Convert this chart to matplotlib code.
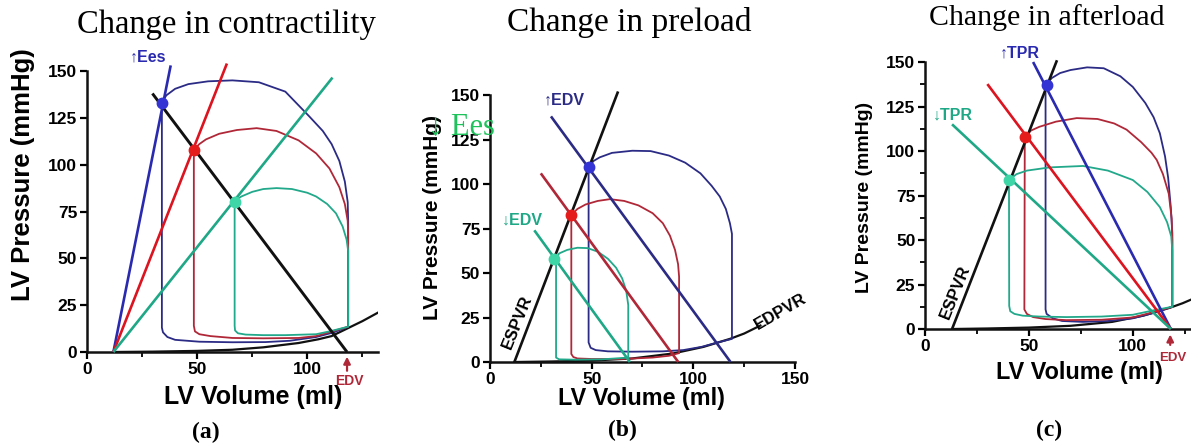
"""
Pressure-volume loops: change in contractility, preload and afterload.
"""

import matplotlib
matplotlib.use("Agg")
import matplotlib.pyplot as plt
from matplotlib.ticker import MultipleLocator, NullLocator

# ── Colours ───────────────────────────────────────────────────────────────────

BLUE_LOOP, BLUE_LINE, BLUE_DOT = "#2b2b86", "#2a2ab0", "#3434d4"
RED_LOOP, RED_LINE, RED_DOT = "#b02838", "#dc1420", "#e41c1c"
GREEN_LOOP, GREEN_LINE, GREEN_DOT = "#22a88a", "#1fa886", "#3ed6a6"
BLACK = "#111111"

# ── Panel (a): change in contractility ────────────────────────────────────────

A_EDPVR_V = [12, 30, 50, 66, 80, 96, 105, 111, 118, 125, 132]
A_EDPVR_P = [0, 0.2, 0.6, 1.2, 2.5, 4.8, 6.8, 8.5, 12.5, 16.5, 21]

A_ESPVR_BLUE = ([12, 38], [0, 153])
A_ESPVR_RED = ([12, 63.5], [0, 154])
A_ESPVR_GREEN = ([12, 111.4], [0, 146.5])
A_EA = ([29.7, 118], [138, 0])

A_BLUE_V = [34, 36, 40, 46, 55, 66, 78, 90, 101, 107, 111, 114.5, 117, 118.3, 118.5,
            118.5, 112, 104, 92, 81, 66, 51, 40, 36.5, 34.5, 34, 34]
A_BLUE_P = [133, 137, 140.5, 143, 144.5, 145, 144, 139, 125.6, 118, 111, 102, 91, 80, 70,
            13.5, 10.5, 8, 6, 5.3, 5.2, 5.5, 6.5, 8, 10.5, 13, 133]
A_RED_V = [48.5, 51, 54, 60, 68, 77, 86, 96, 104, 110, 114.5, 117, 118.3, 118.5,
           118.5, 104, 96, 80, 66, 56, 51, 49, 48.5, 48.5]
A_RED_P = [108, 111, 113.5, 116.5, 118.5, 119.5, 118, 113, 106, 98, 88, 79, 70, 64,
           13.5, 8.5, 7.5, 7.3, 7.5, 8.5, 9.5, 11, 14, 108]
A_GREEN_V = [67, 70, 75, 80, 86, 93, 100, 104, 109, 113, 116, 117.8, 118.5,
             118.5, 110, 104, 90, 80, 72, 68.5, 67.2, 67, 67]
A_GREEN_P = [80.5, 83, 85.5, 87, 87.5, 87, 85, 83, 79, 74, 67, 60, 54,
             13.5, 11, 9.5, 9, 9, 9.3, 10, 11.5, 14, 80.5]

A_DOTS_V = [34, 48.5, 67]
A_DOTS_P = [133, 108, 80]

# ── Panel (b): change in preload ──────────────────────────────────────────────

B_EDPVR_V = [12, 30, 50, 70, 90, 105, 118, 125, 133]
B_EDPVR_P = [0, 0.3, 0.8, 2, 4.8, 8.5, 13, 16, 20.5]

B_ESPVR = ([12, 63], [0, 152])
B_EA_BLUE = ([30, 118.3], [138, 0])
B_EA_RED = ([25, 92.6], [106, 0])
B_EA_GREEN = ([21.8, 68.8], [74, 0])

B_BLUE_V = [48.5, 51, 54, 60, 70, 79, 88, 96, 103.5, 109, 113, 116, 118, 119,
            119, 112, 104, 95, 85, 70, 58, 52, 49.5, 48.5, 48.5]
B_BLUE_P = [109.5, 113, 115, 117.5, 118.7, 118.5, 116, 112, 106, 99, 93, 86, 78, 72,
            13, 11, 8.5, 6.7, 6, 5.8, 6, 6.7, 8, 11, 109.5]
B_RED_V = [40, 43, 47, 53, 59, 66, 73, 80, 85, 88.5, 91, 92.5, 93,
           93, 88, 80, 65, 50, 43, 41, 40, 40]
B_RED_P = [82.6, 86, 88.5, 90.5, 91.5, 90.5, 88, 83.6, 78, 71, 63, 55, 48,
           5, 3.5, 2.5, 1.7, 1.7, 2, 2.8, 4.5, 82.6]
B_GREEN_V = [32.5, 34, 38, 43, 48, 53, 58, 62, 65, 67, 68, 68,
             68, 55, 42, 34, 32.5, 32.5]
B_GREEN_P = [58, 61, 63, 64.2, 64, 62, 58, 53, 47, 40, 32, 25,
             2.5, 1.5, 1.3, 1.5, 2.5, 58]

B_DOTS_V = [48.5, 40, 31.5]
B_DOTS_P = [109.5, 82.6, 58]

# ── Panel (c): change in afterload ────────────────────────────────────────────

C_EDPVR_V = [13, 30, 50, 70, 90, 105, 118, 124, 128]
C_EDPVR_P = [0, 0.3, 0.8, 1.8, 4, 7.5, 12, 14.5, 16.5]

C_ESPVR = ([13, 63.5], [0, 151])
C_EA_BLUE = ([52, 118.3], [150, 0])
C_EA_RED = ([30, 118.3], [137.6, 0])
C_EA_GREEN = ([13, 118.3], [115, 0])

C_BLUE_V = [58, 61, 65, 70, 78, 86, 94, 100, 106, 110, 113, 115.5, 117, 118.3, 119,
            119, 110, 100, 88, 76, 66, 61.5, 58.5, 58, 58]
C_BLUE_P = [137, 141, 143.8, 145.5, 147, 146.5, 142, 136, 127, 119, 110, 97, 85, 68, 54,
            12.5, 9, 6, 4.5, 4, 4.5, 6, 8.5, 11, 137]
C_RED_V = [48, 51, 55, 63, 73, 83, 91, 97, 104, 109, 111.5, 114.5, 117.3, 118.7, 119,
           119, 110, 100, 85, 68, 58, 52, 49, 47.8, 48]
C_RED_P = [108, 111.5, 113.6, 116.5, 118.5, 118, 115.5, 112, 105, 99, 95, 87, 76, 62, 50,
           12.5, 9.5, 6.5, 5.2, 5, 5.6, 6.7, 8.5, 11, 108]
C_GREEN_V = [40.4, 44, 49, 60, 76, 88, 100, 107, 113, 116.5, 118.5, 119,
             119, 110, 100, 85, 68, 55, 47, 43, 41, 40.5, 40.4]
C_GREEN_P = [83.7, 87, 89, 90.8, 91.6, 89, 83.7, 77, 68.5, 60, 52, 44,
             12.5, 10.5, 8, 7, 6.7, 7, 7.5, 8.5, 10, 13, 83.7]

C_DOTS_V = [58.6, 48, 40.4]
C_DOTS_P = [137, 108, 83.7]

DOT_COLORS = [BLUE_DOT, RED_DOT, GREEN_DOT]

SANS = ["Liberation Sans", "DejaVu Sans"]
SERIF = ["Liberation Serif", "DejaVu Serif"]


# ── Helpers ───────────────────────────────────────────────────────────────────

def style_axes(ax, xmax, ylabel_size, xlabel_size, xlab_pos, ylab_pos,
               y_minor=False):
    ax.set_xlim(0, xmax)
    ax.set_ylim(0, 150)
    for side in ("top", "right"):
        ax.spines[side].set_visible(False)
    for side in ("left", "bottom"):
        ax.spines[side].set_linewidth(1.8)
        ax.spines[side].set_color(BLACK)
    ax.xaxis.set_major_locator(MultipleLocator(50))
    ax.xaxis.set_minor_locator(MultipleLocator(25))
    ax.yaxis.set_major_locator(MultipleLocator(25))
    if y_minor:
        ax.yaxis.set_minor_locator(MultipleLocator(12.5))
    else:
        ax.yaxis.set_minor_locator(NullLocator())
    ax.tick_params(which="major", direction="out", length=5, width=1.6,
                   labelsize=12.5, pad=2)
    ax.tick_params(which="minor", direction="out", length=3.5, width=1.3)
    for lab in ax.get_xticklabels() + ax.get_yticklabels():
        lab.set_fontweight("bold")
        lab.set_family(SANS)
    ax.set_xlabel("LV Volume (ml)", fontsize=xlabel_size, fontweight="bold",
                  family=SANS, va="center")
    ax.set_ylabel("LV Pressure (mmHg)", fontsize=ylabel_size, fontweight="bold",
                  family=SANS, va="center")
    ax.xaxis.set_label_coords(*xlab_pos)
    ax.yaxis.set_label_coords(*ylab_pos)
    ax.patch.set_alpha(0)


def line(ax, xy, color, lw=1.9):
    ax.plot(xy[0], xy[1], color=color, lw=lw, clip_on=False,
            solid_capstyle="butt", zorder=3)


def loop(ax, v, p, color):
    ax.plot(v, p, color=color, lw=1.3, clip_on=False, zorder=2)


def dots(ax, v, p):
    for x, y, c in zip(v, p, DOT_COLORS):
        ax.plot(x, y, "o", ms=7.5, color=c, mec=c, clip_on=False, zorder=5)


def edv_arrow(ax, x, y_tail, y_tip, y_text, size=10):
    ax.annotate("", xy=(x, y_tip), xytext=(x, y_tail),
                arrowprops=dict(arrowstyle="-|>", color=RED_LOOP, lw=1.6,
                                mutation_scale=10),
                annotation_clip=False)
    ax.text(x + 1, y_text, "EDV", color=RED_LOOP, fontsize=size,
            fontweight="bold", family=SANS, ha="center", va="center",
            clip_on=False)


def small_label(ax, x, y, s, color):
    ax.text(x, y, s, color=color, fontsize=11.5, fontweight="bold",
            family=SANS, ha="center", va="center", clip_on=False)


# ── Figure ────────────────────────────────────────────────────────────────────

fig = plt.figure(figsize=(11.91, 4.43), dpi=100)

ax_a = fig.add_axes([0.0730, 0.2054, 0.2443, 0.6343])
ax_b = fig.add_axes([0.4114, 0.1828, 0.2561, 0.6027])
ax_c = fig.add_axes([0.7767, 0.2573, 0.2233, 0.6027])

# (a)
style_axes(ax_a, 132, 18.5, 18, (0.57, -0.16), (-0.22, 0.63))
ax_a.plot(A_EDPVR_V, A_EDPVR_P, color=BLACK, lw=1.6, zorder=2)
loop(ax_a, A_BLUE_V, A_BLUE_P, BLUE_LOOP)
loop(ax_a, A_RED_V, A_RED_P, RED_LOOP)
loop(ax_a, A_GREEN_V, A_GREEN_P, GREEN_LOOP)
line(ax_a, A_ESPVR_BLUE, BLUE_LINE)
line(ax_a, A_ESPVR_RED, RED_LINE)
line(ax_a, A_ESPVR_GREEN, GREEN_LINE)
line(ax_a, A_EA, BLACK, lw=2.1)
dots(ax_a, A_DOTS_V, A_DOTS_P)
small_label(ax_a, 27.6, 157.5, "↑Ees", BLUE_LINE)
edv_arrow(ax_a, 118, -11.5, -1, -15.5)

# (b)
style_axes(ax_b, 150, 15, 16.8, (0.495, -0.135), (-0.19, 0.543))
ax_b.plot(B_EDPVR_V, B_EDPVR_P, color=BLACK, lw=1.6, zorder=2)
loop(ax_b, B_BLUE_V, B_BLUE_P, BLUE_LOOP)
loop(ax_b, B_RED_V, B_RED_P, RED_LOOP)
loop(ax_b, B_GREEN_V, B_GREEN_P, GREEN_LOOP)
line(ax_b, B_ESPVR, BLACK, lw=1.9)
line(ax_b, B_EA_BLUE, BLUE_LOOP)
line(ax_b, B_EA_RED, RED_LOOP)
line(ax_b, B_EA_GREEN, GREEN_LINE)
dots(ax_b, B_DOTS_V, B_DOTS_P)
small_label(ax_b, 36.6, 147, "↑EDV", BLUE_LOOP)
small_label(ax_b, 15.8, 80, "↓EDV", GREEN_LINE)
ax_b.text(13.4, 22.5, "ESPVR", rotation=68, fontsize=12, fontweight="bold",
          family=SANS, ha="center", va="center")
ax_b.text(143, 28, "EDPVR", rotation=30, fontsize=12, fontweight="bold",
          family=SANS, ha="center", va="center", clip_on=False)

# (c)
style_axes(ax_c, 128, 14, 16.8, (0.58, -0.163), (-0.226, 0.494), y_minor=True)
ax_c.plot(C_EDPVR_V, C_EDPVR_P, color=BLACK, lw=1.6, zorder=2)
loop(ax_c, C_BLUE_V, C_BLUE_P, BLUE_LOOP)
loop(ax_c, C_RED_V, C_RED_P, RED_LOOP)
loop(ax_c, C_GREEN_V, C_GREEN_P, GREEN_LOOP)
line(ax_c, C_ESPVR, BLACK, lw=1.9)
line(ax_c, C_EA_BLUE, BLUE_LINE)
line(ax_c, C_EA_RED, RED_LINE)
line(ax_c, C_EA_GREEN, GREEN_LINE)
dots(ax_c, C_DOTS_V, C_DOTS_P)
small_label(ax_c, 45.7, 155, "↑TPR", BLUE_LINE)
small_label(ax_c, 13.5, 120, "↓TPR", GREEN_LINE)
ax_c.text(14.4, 20.8, "ESPVR", rotation=68, fontsize=12, fontweight="bold",
          family=SANS, ha="center", va="center")
edv_arrow(ax_c, 118, -10.5, -1.5, -16.3, size=9.5)

# titles and panel letters
W, H = 1191, 443
fig.text(226 / W, 1 - 25 / H, "Change in contractility", fontsize=23.5,
         family=SERIF, ha="center", va="center")
fig.text(629 / W, 1 - 23 / H, "Change in preload", fontsize=24,
         family=SERIF, ha="center", va="center")
fig.text(1047 / W, 1 - 18 / H, "Change in afterload", fontsize=21.5,
         family=SERIF, ha="center", va="center")
fig.text(206 / W, 1 - 432 / H, "(a)", fontsize=17, fontweight="bold",
         family=SERIF, ha="center", va="center")
fig.text(622 / W, 1 - 430 / H, "(b)", fontsize=17, fontweight="bold",
         family=SERIF, ha="center", va="center")
fig.text(1049 / W, 1 - 430 / H, "(c)", fontsize=17, fontweight="bold",
         family=SERIF, ha="center", va="center")

# stray green label overlapping panel (b)
fig.text(428 / W, 1 - 127 / H, "↓ Ees", fontsize=22, color="#1ec25a",
         family=SERIF, ha="left", va="center", zorder=10)

fig.savefig("out.png", dpi=100)
